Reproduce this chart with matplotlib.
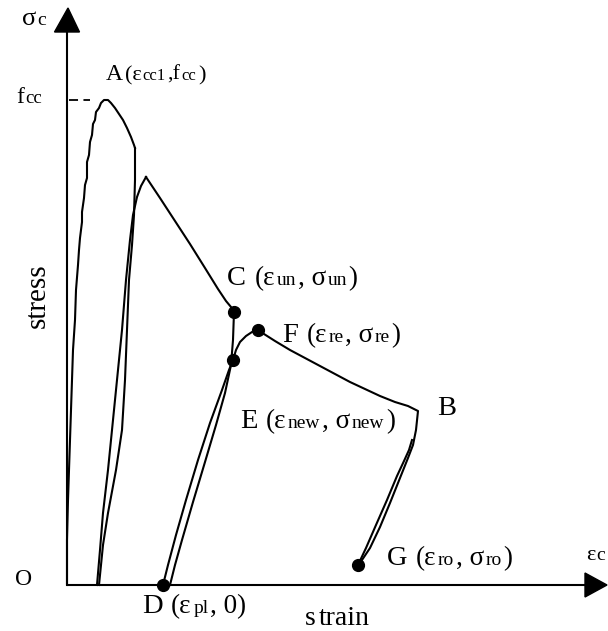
import matplotlib

matplotlib.use("Agg")
import matplotlib.pyplot as plt
from matplotlib.patches import Polygon

plt.rcParams["font.family"] = ["Liberation Serif", "DejaVu Serif"]

# strain / stress in drawing units, origin at O
envelope_strain = [0, 0, 1, 2, 3, 4, 5, 6, 8, 9, 11, 12, 13, 15, 15, 17, 18, 20, 20, 22, 23, 25,
                   26, 28, 29, 32, 34, 37, 41, 44, 48, 52, 56, 60, 64, 67, 68]
envelope_stress = [0, 45, 85, 115, 145, 175, 205, 235, 265, 295, 320, 335, 347, 363, 373, 387, 400,
                   407, 423, 430, 443, 450, 461, 465, 473, 477, 482, 485, 485, 482, 477, 471, 465,
                   457, 448, 440, 437]

unload1_strain = [68, 68, 67, 65, 62, 60, 58, 55, 49, 41, 36, 32]
unload1_stress = [437, 405, 370, 340, 305, 255, 205, 155, 115, 72, 40, 0]

reload1_strain = [30, 33, 36, 41, 45, 50, 55, 59, 63, 66, 70, 74, 79]
reload1_stress = [0, 35, 72, 115, 155, 205, 255, 305, 345, 370, 388, 399, 408]

soften_strain = [79, 93, 108, 123, 138, 151, 159, 164, 167]
soften_stress = [408, 387, 364, 341, 317, 296, 284, 278, 273]

unload2_strain = [167, 166, 164, 158, 149, 138, 126, 115, 108, 103]
unload2_stress = [273, 245, 220, 192, 160, 123, 83, 45, 20, 0]

reload2_strain = [96, 101, 109, 119, 131, 143, 155, 162, 166, 169, 173, 179, 185, 191, 197, 208,
                  223, 238, 253, 268, 283, 298, 313, 328, 341, 351]
reload2_stress = [0, 20, 50, 85, 125, 162, 195, 215, 225, 235, 243, 249, 253, 255, 251, 244,
                  235, 227, 219, 211, 203, 196, 189, 183, 179, 174]

unload3_strain = [351, 349, 346, 341, 333, 323, 313, 303, 295, 291]
unload3_stress = [174, 155, 140, 127, 107, 82, 58, 37, 25, 20]

reload3_strain = [291, 299, 309, 320, 330, 337, 342, 345]
reload3_stress = [20, 37, 60, 85, 109, 124, 135, 145]

point_names = ["C", "F", "E", "D", "G"]
point_strain = [167, 191, 166, 96, 291]
point_stress = [273, 255, 225, 0, 20]

fcc = 485
eps_cc1 = 39

fig = plt.figure(figsize=(6.08, 6.31), dpi=100)
ax = fig.add_axes([0, 0, 1, 1])
ax.set_xlim(-67, 541)
ax.set_ylim(-46, 585)
ax.axis("off")

LW = 1.5
K = "black"

# axes with arrow heads
ax.plot([0, 0], [0, 555], color=K, lw=LW, solid_capstyle="butt")
ax.plot([0, 518], [0, 0], color=K, lw=LW, solid_capstyle="butt")
ax.add_patch(Polygon([(-12.5, 553), (12.5, 553), (1, 577)], closed=True, color=K))
ax.add_patch(Polygon([(518, 12), (518, -12), (540, 0)], closed=True, color=K))

ax.plot([2, 23], [fcc, fcc], color=K, lw=1.3, dashes=(5, 3))

for xs, ys in [
    (envelope_strain, envelope_stress),
    (unload1_strain, unload1_stress),
    (reload1_strain, reload1_stress),
    (soften_strain, soften_stress),
    (unload2_strain + [], unload2_stress),
    (reload2_strain + unload3_strain[1:], reload2_stress + unload3_stress[1:]),
    (reload3_strain, reload3_stress),
]:
    ax.plot(xs, ys, color=K, lw=LW, solid_joinstyle="round")

ax.plot(point_strain, point_stress, "o", color=K, ms=8.5, zorder=5)

fig.canvas.draw()
renderer = fig.canvas.get_renderer()


def draw_label(x, y, parts, gap=1.5):
    """Draw pieces of text side by side on a common baseline."""
    for s, size in parts:
        lead = len(s) - len(s.lstrip(" "))
        trail = len(s) - len(s.rstrip(" "))
        space = 0.25 * size * 100 / 72
        x += lead * space
        core = s.strip(" ")
        if core:
            t = ax.text(x, y, core, fontsize=size, va="baseline", ha="left", color=K)
            x += t.get_window_extent(renderer).width + gap
        x += trail * space


BIG, MID, SUB = 20.5, 19.5, 14

draw_label(-45, 560, [("σ", 19), ("c", 14)])
draw_label(-51, 482, [("f", 17), ("cc", 13.5)])
draw_label(eps_cc1, 505, [("A", 17), ("(ε", 16), ("cc1", 12), (",f", 16), ("cc", 12), (")", 16)])
draw_label(160, 300, [("C ", BIG), ("(ε", MID), ("un", SUB), (", σ", MID), ("un", SUB), (")", MID)])
draw_label(215, 243, [("F ", BIG), ("(ε", MID), ("re", SUB), (", σ", MID), ("re", SUB), (")", MID)])
draw_label(173, 157, [("E ", BIG), ("(ε", MID), ("new", SUB), (", σ", MID), ("new", SUB), (")", MID)])
draw_label(370, 170, [("B", BIG)])
draw_label(320, 20, [("G ", BIG), ("(ε", MID), ("ro", SUB), (", σ", MID), ("ro", SUB), (")", MID)])
draw_label(75, -28, [("D ", BIG), ("(ε", MID), ("pl", SUB), (", 0)", MID)])
draw_label(-52, 0, [("O", 17)])
draw_label(519, 25, [("ε", 16), ("c", 14)], gap=0.5)
draw_label(238, -40, [("s", 20), ("train", 20)], gap=3)
ax.text(-29, 289, "stress", fontsize=21, rotation=90, ha="center", va="center", color=K)

fig.savefig("out.png", dpi=100)
